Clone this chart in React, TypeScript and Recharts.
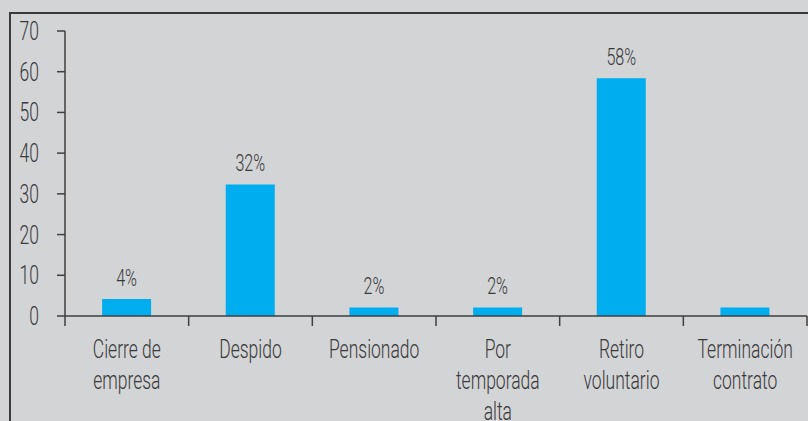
import { BarChart, Bar, XAxis, YAxis, LabelList } from "recharts"

const categories = [
  "Cierre de\nempresa",
  "Despido",
  "Pensionado",
  "Por\ntemporada\nalta",
  "Retiro\nvoluntario",
  "Terminación\ncontrato",
]
const values = [4.2, 32.3, 2.1, 2.1, 58.4, 2.1]
const valueLabels = ["4%", "32%", "2%", "2%", "58%", ""]
const yTicks = [0, 10, 20, 30, 40, 50, 60, 70]

const data = categories.map((name, i) => ({ name, value: values[i], label: valueLabels[i] }))

const FONT = "Roboto, 'Liberation Sans', sans-serif"
const TEXT = "#383838"
const AXIS = "#3f3f3f"
const SQUEEZE = 0.7

// condensed text: the picture uses a narrow face we do not have, so squeeze Roboto
function Narrow({ x, y, anchor, size, children }: any) {
  return (
    <g transform={`translate(${x},${y}) scale(${SQUEEZE},1)`}>
      <text x={0} y={0} textAnchor={anchor} fill={TEXT} fontSize={size} fontFamily={FONT} fontWeight={300}>
        {children}
      </text>
    </g>
  )
}

function CategoryTick(props: any) {
  const { x, y, payload, index, visibleTicksCount } = props
  const half = payload.offset || 0
  const lines = String(payload.value).split("\n")
  return (
    <g>
      <line x1={x - half} x2={x - half} y1={y - 8} y2={y + 2} stroke={AXIS} strokeWidth={1.5} />
      {index === visibleTicksCount - 1 && (
        <line x1={x + half} x2={x + half} y1={y - 8} y2={y + 2} stroke={AXIS} strokeWidth={1.5} />
      )}
      {lines.map((l, i) => (
        <Narrow key={i} x={x} y={y + 34 + i * 31} anchor="middle" size={25}>
          {l}
        </Narrow>
      ))}
    </g>
  )
}

function ValueTick(props: any) {
  const { x, y, payload } = props
  return (
    <Narrow x={x} y={y + 9} anchor="end" size={25}>
      {payload.value}
    </Narrow>
  )
}

function ValueLabel(props: any) {
  const { x, y, width, value } = props
  if (!value) return null
  return (
    <Narrow x={x + width / 2} y={y - 13} anchor="middle" size={23}>
      {value}
    </Narrow>
  )
}

export default function App() {
  return (
    <div style={{ position: "fixed", left: 0, top: 0, width: 808, height: 421, background: "#d3d4d6", overflow: "hidden" }}>
      <div
        style={{
          position: "absolute",
          left: 9,
          top: 12,
          width: 840,
          height: 460,
          border: "2px solid #3a3a3a",
        }}
      />
      <div style={{ position: "absolute", left: 0, top: 0 }}>
        <BarChart width={808} height={421} data={data} margin={{ top: 31, right: 1, left: 25, bottom: 5 }} barCategoryGap="30%">
          <XAxis
            dataKey="name"
            interval={0}
            height={100}
            axisLine={{ stroke: AXIS, strokeWidth: 1.5 }}
            tickLine={false}
            tick={<CategoryTick />}
          />
          <YAxis
            width={40}
            domain={[0, 70]}
            ticks={yTicks}
            interval={0}
            axisLine={{ stroke: AXIS, strokeWidth: 1.5 }}
            tickLine={{ stroke: AXIS, strokeWidth: 1.5 }}
            tickSize={8}
            tickMargin={18}
            tick={<ValueTick />}
          />
          <Bar dataKey="value" fill="#00aeef" isAnimationActive={false}>
            <LabelList dataKey="label" content={<ValueLabel />} />
          </Bar>
        </BarChart>
      </div>
    </div>
  )
}
